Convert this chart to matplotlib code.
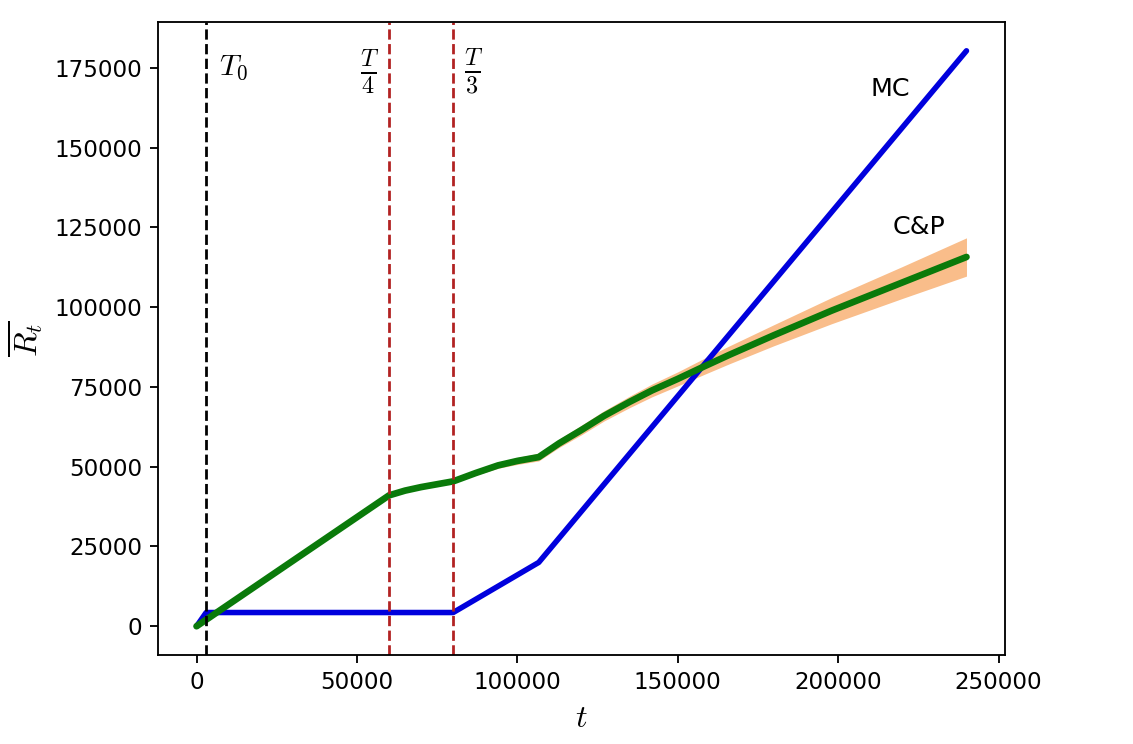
import numpy as np
import matplotlib
matplotlib.use("Agg")
import matplotlib.pyplot as plt

plt.rcParams['mathtext.fontset'] = 'cm'

## horizon and markers
T = 240000
T0 = 3000

## MC regret curve
mc_t = [0, 3000, 80000, 106667, 240000]
mc_r = [0, 4300, 4300, 20000, 180300]

## C&P regret curve, mean and band half width
cp_t = [0, 60000, 65000, 70000, 75000, 80000, 87000, 94000, 100000, 106667,
        113000, 120000, 127000, 135000, 142000, 150000, 158000, 166000,
        180000, 198000, 220000, 240000]
cp_r = [0, 41000, 42500, 43600, 44500, 45400, 48000, 50400, 51800, 53000,
        57300, 61500, 65900, 70300, 73900, 77500, 81300, 85000,
        91200, 98900, 107700, 115700]
cp_w = [0, 0, 0, 50, 150, 300, 700, 900, 1100, 1200,
        1300, 1500, 1600, 1800, 2000, 2200, 2500, 2800,
        3300, 4100, 5000, 6000]

dpi = 166
fig = plt.figure(figsize=(1133 / dpi, 744 / dpi), dpi=dpi)
ax = fig.add_axes([0.1395, 0.1196, 0.7475, 0.8508])

cp_r = np.array(cp_r)
cp_w = np.array(cp_w)
ax.fill_between(cp_t, cp_r - cp_w, cp_r + cp_w, color='#f9bd8a', lw=0)
ax.plot(mc_t, mc_r, color='#0000dd', lw=2.4, solid_capstyle='round')
ax.plot(cp_t, cp_r, color='#0a7a0a', lw=2.9, solid_capstyle='round')

ax.axvline(T0, color='k', ls='--', lw=1.2)
ax.axvline(T / 4, color='#b22222', ls='--', lw=1.2)
ax.axvline(T / 3, color='#b22222', ls='--', lw=1.2)

ax.text(7000, 175000, '$T_0$', fontsize=13, va='center', ha='left')
ax.text(53800, 173500, r'$\frac{T}{4}$', fontsize=15, va='center', ha='center')
ax.text(86500, 173500, r'$\frac{T}{3}$', fontsize=15, va='center', ha='center')

ax.text(210000, 168300, 'MC', fontsize=11, va='center', ha='left')
ax.text(216900, 125100, 'C&P', fontsize=11, va='center', ha='left')

ax.set_xlabel('$t$', fontsize=14)
ax.set_ylabel(r'$\overline{R_t}$', fontsize=14)

fig.savefig('out.png', dpi=dpi)
